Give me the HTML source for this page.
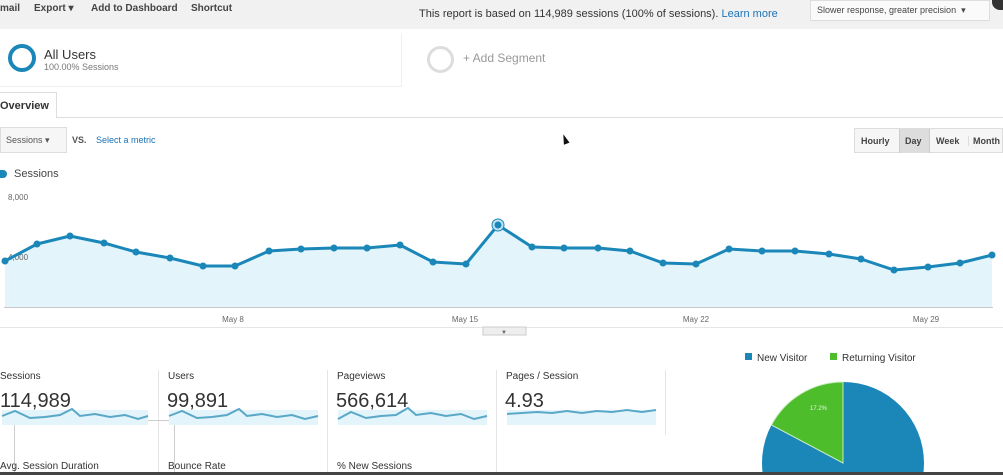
<!DOCTYPE html>
<html><head><meta charset="utf-8"><style>
*{margin:0;padding:0;box-sizing:border-box}
html,body{width:1003px;height:475px;overflow:hidden}
body{background:#fff;font-family:"Liberation Sans",Arial,sans-serif;position:relative;color:#333}
.a{position:absolute;white-space:nowrap}
</style></head><body>
<div class="a" style="left:0;top:0;width:1003px;height:29px;background:#f1f1f1"></div>
<div class="a" style="left:0;top:3px;font-size:10px;font-weight:bold;color:#444">mail</div>
<div class="a" style="left:34px;top:3px;font-size:10px;font-weight:bold;color:#444">Export ▾</div>
<div class="a" style="left:91px;top:3px;font-size:10px;font-weight:bold;color:#444">Add to Dashboard</div>
<div class="a" style="left:191px;top:3px;font-size:10px;font-weight:bold;color:#444">Shortcut</div>
<div class="a" style="left:419px;top:8px;font-size:11px;color:#333">This report is based on 114,989 sessions (100% of sessions). <span style="color:#1a73b8">Learn more</span></div>
<div class="a" style="left:810px;top:0;width:180px;height:21px;background:#fafafa;border:1px solid #ddd;font-size:9px;padding:4px 6px;color:#444">Slower response, greater precision &nbsp;▾</div>
<div class="a" style="left:992px;top:0;width:11px;height:10px;background:#333;border-radius:0 0 0 8px"></div>
<div class="a" style="left:0;top:33px;width:402px;height:54px;border-right:1px solid #eee;border-bottom:1px solid #eee"></div>
<div class="a" style="left:8px;top:44px;width:28px;height:28px;border:4px solid #1a87b8;border-radius:50%"></div>
<div class="a" style="left:44px;top:47px;font-size:13px;color:#333">All Users</div>
<div class="a" style="left:44px;top:62px;font-size:9px;color:#777">100.00% Sessions</div>
<div class="a" style="left:427px;top:46px;width:27px;height:27px;border:3px solid #ddd;border-radius:50%"></div>
<div class="a" style="left:463px;top:51px;font-size:12px;color:#999">+ Add Segment</div>
<div class="a" style="left:0;top:92px;width:57px;height:26px;border:1px solid #ddd;border-bottom:none;border-left:none;background:#fff;font-size:11px;font-weight:bold;padding:7px 0 0 0;color:#333">Overview</div>
<div class="a" style="left:56px;top:117px;width:947px;height:1px;background:#ddd"></div>
<div class="a" style="left:0;top:127px;width:67px;height:26px;border:1px solid #ddd;background:#f6f6f6;font-size:9px;padding:7px 5px;color:#555">Sessions ▾</div>
<div class="a" style="left:72px;top:135px;font-size:9px;font-weight:bold;color:#555">VS.</div>
<div class="a" style="left:96px;top:135px;font-size:9px;color:#1a73b8">Select a metric</div>
<div class="a" style="left:854px;top:128px;width:149px;height:25px;border:1px solid #ddd;background:#f6f6f6;font-size:9px;font-weight:bold;color:#444">
<span class="a" style="left:6px;top:7px">Hourly</span>
<span class="a" style="left:44px;top:0;width:31px;height:24px;background:#ddd;border-left:1px solid #ccc;border-right:1px solid #ccc"></span>
<span class="a" style="left:50px;top:7px">Day</span>
<span class="a" style="left:81px;top:7px">Week</span>
<span class="a" style="left:113px;top:7px;border-left:1px solid #ddd;padding-left:4px">Month</span></div>
<div class="a" style="left:0;top:170px;width:7px;height:8px;background:#1a87b8;border-radius:0 4px 4px 0"></div>
<div class="a" style="left:14px;top:168px;font-size:11px;color:#444">Sessions</div>
<svg class="a" style="left:0;top:0" width="1003" height="340">
<polygon fill="#e3f4fb" points="5,307 5,261 37,244 70,236 104,243 136,252 170,258 203,266 235,266 269,251 301,249 334,248 367,248 400,245 433,262 466,264 498,225 532,247 564,248 598,248 630,251 663,263 696,264 729,249 762,251 795,251 829,254 861,259 894,270 928,267 960,263 992,255 992,307"/>
<line x1="4" y1="307.5" x2="993" y2="307.5" stroke="#c9c9c9"/>
<line x1="0" y1="327.5" x2="1003" y2="327.5" stroke="#e5e5e5"/>
<g font-size="8" fill="#666" font-family="Liberation Sans,sans-serif"><text x="8" y="200">8,000</text><text x="8" y="260">4,000</text></g>
<polyline fill="none" stroke="#1a87b8" stroke-width="3" stroke-linejoin="round" points="5,261 37,244 70,236 104,243 136,252 170,258 203,266 235,266 269,251 301,249 334,248 367,248 400,245 433,262 466,264 498,225 532,247 564,248 598,248 630,251 663,263 696,264 729,249 762,251 795,251 829,254 861,259 894,270 928,267 960,263 992,255"/>
<g fill="#1a87b8">
<circle cx="5" cy="261" r="3.5"/><circle cx="37" cy="244" r="3.5"/><circle cx="70" cy="236" r="3.5"/><circle cx="104" cy="243" r="3.5"/><circle cx="136" cy="252" r="3.5"/><circle cx="170" cy="258" r="3.5"/><circle cx="203" cy="266" r="3.5"/><circle cx="235" cy="266" r="3.5"/><circle cx="269" cy="251" r="3.5"/><circle cx="301" cy="249" r="3.5"/><circle cx="334" cy="248" r="3.5"/><circle cx="367" cy="248" r="3.5"/><circle cx="400" cy="245" r="3.5"/><circle cx="433" cy="262" r="3.5"/><circle cx="466" cy="264" r="3.5"/><circle cx="532" cy="247" r="3.5"/><circle cx="564" cy="248" r="3.5"/><circle cx="598" cy="248" r="3.5"/><circle cx="630" cy="251" r="3.5"/><circle cx="663" cy="263" r="3.5"/><circle cx="696" cy="264" r="3.5"/><circle cx="729" cy="249" r="3.5"/><circle cx="762" cy="251" r="3.5"/><circle cx="795" cy="251" r="3.5"/><circle cx="829" cy="254" r="3.5"/><circle cx="861" cy="259" r="3.5"/><circle cx="894" cy="270" r="3.5"/><circle cx="928" cy="267" r="3.5"/><circle cx="960" cy="263" r="3.5"/><circle cx="992" cy="255" r="3.5"/>
</g>
<circle cx="498" cy="225" r="6" fill="#bfe3f2" stroke="#1a87b8" stroke-width="1"/><circle cx="498" cy="225" r="3.5" fill="#1a87b8"/>
<g font-size="8" fill="#666" font-family="Liberation Sans,sans-serif" text-anchor="middle">
<text x="233" y="322">May 8</text><text x="465" y="322">May 15</text><text x="696" y="322">May 22</text><text x="926" y="322">May 29</text></g>
<rect x="483" y="327" width="43" height="8" fill="#eee" stroke="#ccc"/>
<text x="504" y="334" font-size="6" fill="#666" text-anchor="middle">▼</text>
</svg>
<svg class="a" style="left:0;top:340px" width="1003" height="135">
<g stroke="#e5e5e5"><line x1="158.5" y1="30" x2="158.5" y2="135"/><line x1="327.5" y1="30" x2="327.5" y2="135"/><line x1="496.5" y1="30" x2="496.5" y2="135"/><line x1="665.5" y1="30" x2="665.5" y2="95"/></g>
<rect x="14.5" y="80.5" width="160" height="60" fill="none" stroke="#ccc"/>
<g fill="#e3f4fb"><rect x="2" y="70" width="146" height="15"/><rect x="169" y="70" width="149" height="15"/><rect x="338" y="70" width="149" height="15"/><rect x="507" y="70" width="149" height="15"/></g>
<g fill="none" stroke="#5aa8c8" stroke-width="2">
<polyline points="2,76 15,71 30,78 45,77 60,75 72,69 80,76 95,74 110,77 125,75 138,79 148,76"/>
<polyline points="169,76 182,71 197,78 212,77 227,75 239,69 247,76 262,74 277,77 292,75 305,79 318,76"/>
<polyline points="338,79 351,72 366,78 381,76 396,75 408,68 416,75 431,73 446,76 461,74 474,79 487,76"/>
<polyline points="507,74 522,73 537,72 552,73 567,71 582,73 597,71 612,72 627,70 642,72 656,70"/>
</g>
<g fill="#333" font-family="Liberation Sans,sans-serif">
<g font-size="10"><text x="0" y="39">Sessions</text><text x="168" y="39">Users</text><text x="337" y="39">Pageviews</text><text x="506" y="39">Pages / Session</text>
<text x="0" y="129">Avg. Session Duration</text><text x="168" y="129">Bounce Rate</text><text x="337" y="129">% New Sessions</text></g>
<g font-size="20"><text x="0" y="67">114,989</text><text x="167" y="67">99,891</text><text x="336" y="67">566,614</text><text x="505" y="67">4.93</text></g>
<rect x="745" y="13" width="7" height="7" fill="#1a87b8"/><text x="757" y="21" font-size="10">New Visitor</text>
<rect x="830" y="13" width="7" height="7" fill="#4dbd2b"/><text x="842" y="21" font-size="10">Returning Visitor</text>
</g>
<circle cx="843" cy="123" r="81" fill="#1a87b8"/>
<path d="M843,123 L843,42 A81,81 0 0 0 771.5,85 Z" fill="#4dbd2b" stroke="#c8eac0" stroke-width="1"/>
<text x="810" y="70" font-size="6" fill="#e8f8e0" font-family="Liberation Sans,sans-serif">17.2%</text>
<rect x="0" y="132" width="1003" height="3" fill="#444"/>
</svg>
<div class="a" style="left:562px;top:134px;width:0;height:0;border-left:3px solid transparent;border-right:3px solid transparent;border-bottom:10px solid #111;transform:rotate(-20deg)"></div>
</body></html>
